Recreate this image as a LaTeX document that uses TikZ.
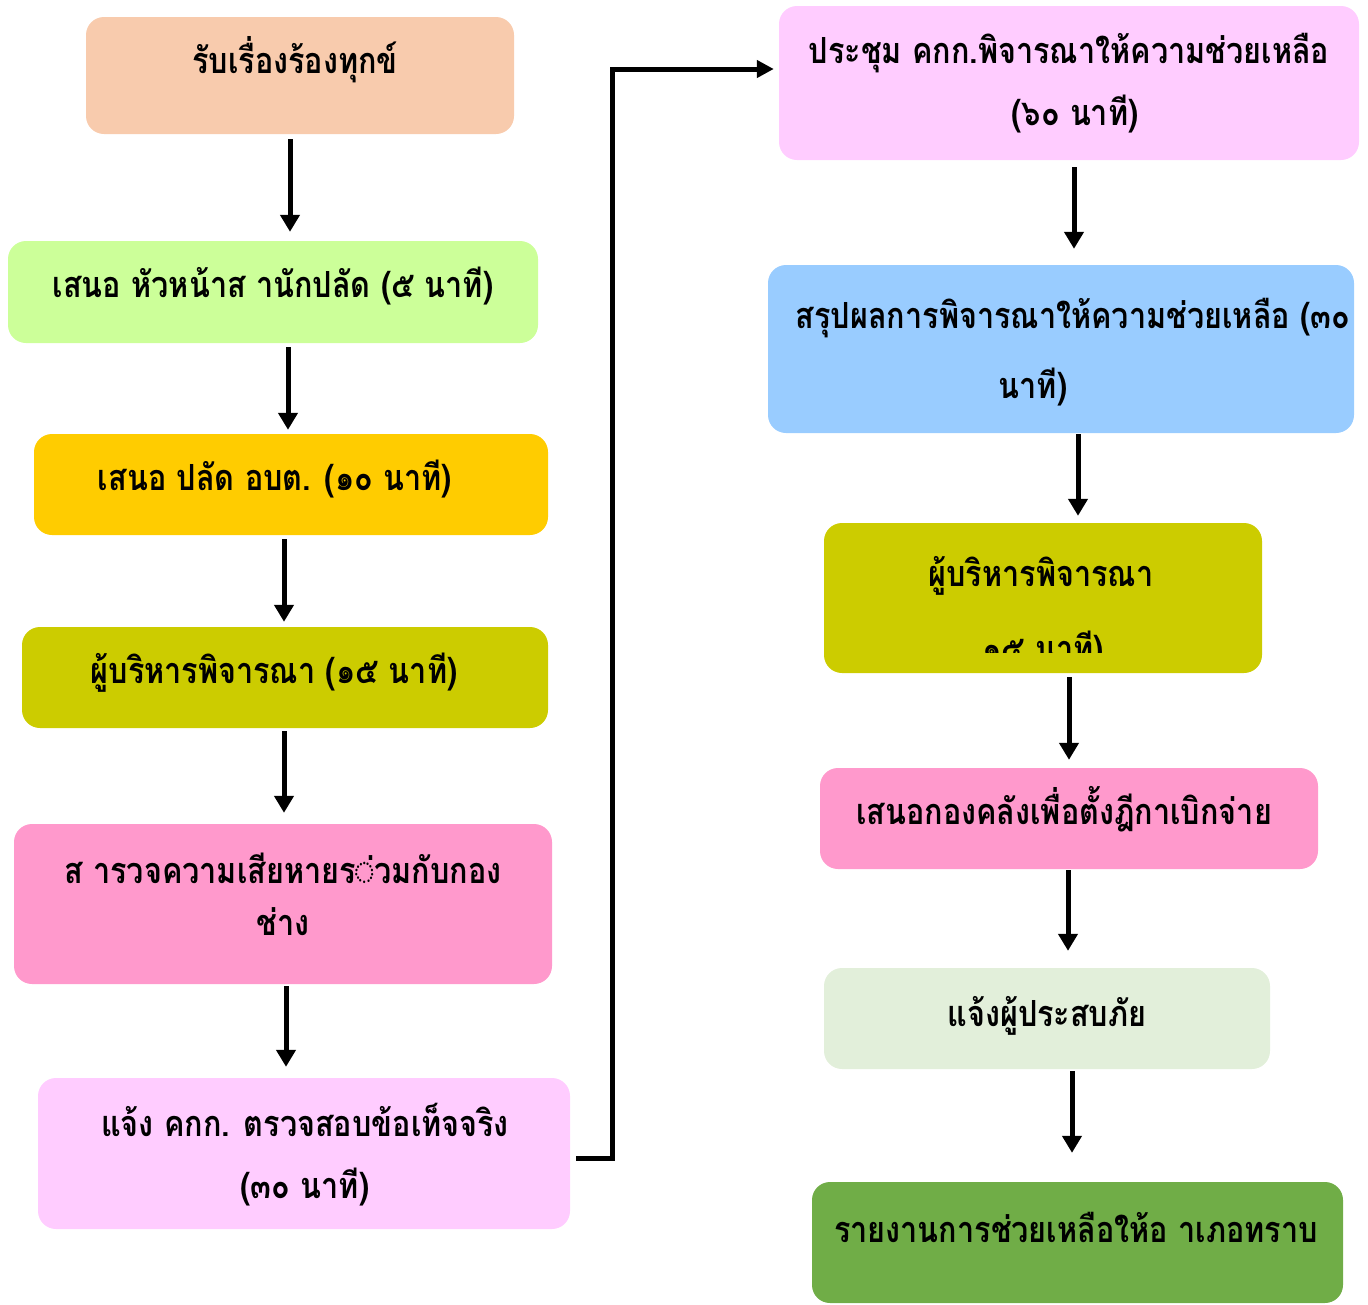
\documentclass[tikz,border=0pt]{standalone}
\usepackage{fontspec}
\newfontfamily\thaifont[Script=Thai,FakeStretch=0.85]{Loma}
\usetikzlibrary{arrows.meta,calc}
\definecolor{cPeach}{HTML}{F8CBAD}
\definecolor{cLime}{HTML}{CCFF99}
\definecolor{cGold}{HTML}{FFCC00}
\definecolor{cOlive}{HTML}{CCCC00}
\definecolor{cPink}{HTML}{FF99CC}
\definecolor{cMag}{HTML}{FFCCFF}
\definecolor{cBlue}{HTML}{99CCFF}
\definecolor{cPale}{HTML}{E2EFDA}
\definecolor{cGreen}{HTML}{70AD47}
\tikzset{
  box/.style={rectangle, rounded corners=18pt, draw=none, inner sep=0pt},
  lbl/.style={anchor=base, inner sep=0pt, font=\thaifont\bfseries\fontsize{36}{40}\selectfont},
  arr/.style={line width=5pt, -{Triangle[width=19pt,length=17pt]}},
  longarr/.style={line width=5pt, -{Triangle[width=17pt,length=17pt]}}
}
\begin{document}
\begin{tikzpicture}[x=1pt,y=-1pt]
\useasboundingbox (0,0) rectangle (1368,1304);
% left column
\node[box, fill=cPeach, minimum width=428pt, minimum height=117pt] (b1) at (300,75.5) {};
\node[box, fill=cLime,  minimum width=530pt, minimum height=102pt] (b2) at (273,292) {};
\node[box, fill=cGold,  minimum width=514pt, minimum height=101pt] (b3) at (291,484.5) {};
\node[box, fill=cOlive, minimum width=526pt, minimum height=101pt] (b4) at (285,677.5) {};
\node[box, fill=cPink,  minimum width=538pt, minimum height=160pt] (b5) at (283,904) {};
\node[box, fill=cMag,   minimum width=532pt, minimum height=151pt] (b6) at (304,1153.5) {};
% right column
\node[box, fill=cMag,   minimum width=580pt, minimum height=154pt] (b7) at (1069,83) {};
\node[box, fill=cBlue,  minimum width=586pt, minimum height=168pt] (b8) at (1061,349) {};
\node[box, fill=cOlive, minimum width=438pt, minimum height=150pt] (b9) at (1043,598) {};
\node[box, fill=cPink,  minimum width=498pt, minimum height=101pt] (b10) at (1069,818.5) {};
\node[box, fill=cPale,  minimum width=446pt, minimum height=101pt] (b11) at (1047,1018.5) {};
\node[box, fill=cGreen, minimum width=531pt, minimum height=121pt] (b12) at (1077.5,1242.5) {};
% texts
\node[lbl] (t1) at (295,73) {รับเรื่องร้องทุกข์};
\node[lbl] (t2) at (273,297) {เสนอ หัวหน้าส านักปลัด (๕ นาที)};
\node[lbl] (t3) at (275,490) {เสนอ ปลัด อบต. (๑๐ นาที)};
\node[lbl] (t4) at (274,683) {ผู้บริหารพิจารณา (๑๕ นาที)};
\node[lbl] (t5a) at (283,883) {ส ารวจความเสียหายร◌่วมกับกอง};
\node[lbl] (t5b) at (283,935) {ช่าง};
\node[lbl] (t6a) at (305,1136) {แจ้ง คกก. ตรวจสอบข้อเท็จจริง};
\node[lbl] (t6b) at (305,1198) {(๓๐ นาที)};
\node[lbl] (t7a) at (1069,63) {ประชุม คกก.พิจารณาให้ความช่วยเหลือ};
\node[lbl] (t7b) at (1075,125) {(๖๐ นาที)};
\node[lbl] (t8a) at (1073,328) {สรุปผลการพิจารณาให้ความช่วยเหลือ (๓๐};
\node[lbl] (t8b) at (1033,398) {นาที)};
\node[lbl] (t9a) at (1041,586) {ผู้บริหารพิจารณา};
\begin{scope}
\clip (824,600) rectangle (1262,652);
\node[lbl] (t9b) at (1043,661) {๑๕ นาที)};
\end{scope}
\node[lbl] (t10) at (1064,824) {เสนอกองคลังเพื่อตั้งฎีกาเบิกจ่าย};
\node[lbl] (t11) at (1047,1026) {แจ้งผู้ประสบภัย};
\node[lbl] (t12) at (1076,1242) {รายงานการช่วยเหลือให้อ าเภอทราบ};
% arrows left
\draw[arr] ($(b1.south)+(-10,5)$) -- ($(b1.south |- b2.north)+(-10,-9)$);
\draw[arr] ($(b2.south)+(15,4)$) -- ($(b2.south |- b3.north)+(15,-4)$);
\draw[arr] ($(b3.south)+(-7,4)$) -- ($(b3.south |- b4.north)+(-7,-5)$);
\draw[arr] ($(b4.south)+(-1,3)$) -- ($(b4.south |- b5.north)+(-1,-11)$);
\draw[arr] ($(b5.south)+(3,2)$) -- ($(b5.south |- b6.north)+(3,-11)$);
% long connector
\draw[longarr] ($(b6.east)+(6,4.5)$) -- ++(36,0) |- ($(b7.west)+(-5,-14)$);
% arrows right
\draw[arr] ($(b7.south)+(5,7)$) -- ($(b7.south |- b8.north)+(5,-16)$);
\draw[arr] ($(b8.south)+(17,1)$) -- ($(b8.south |- b9.north)+(17,-7)$);
\draw[arr] ($(b9.south)+(26,4)$) -- ($(b9.south |- b10.north)+(26,-8)$);
\draw[arr] ($(b10.south)+(-1,1)$) -- ($(b10.south |- b11.north)+(-1,-17)$);
\draw[arr] ($(b11.south)+(25,2)$) -- ($(b11.south |- b12.north)+(25,-29)$);
\end{tikzpicture}
\end{document}
